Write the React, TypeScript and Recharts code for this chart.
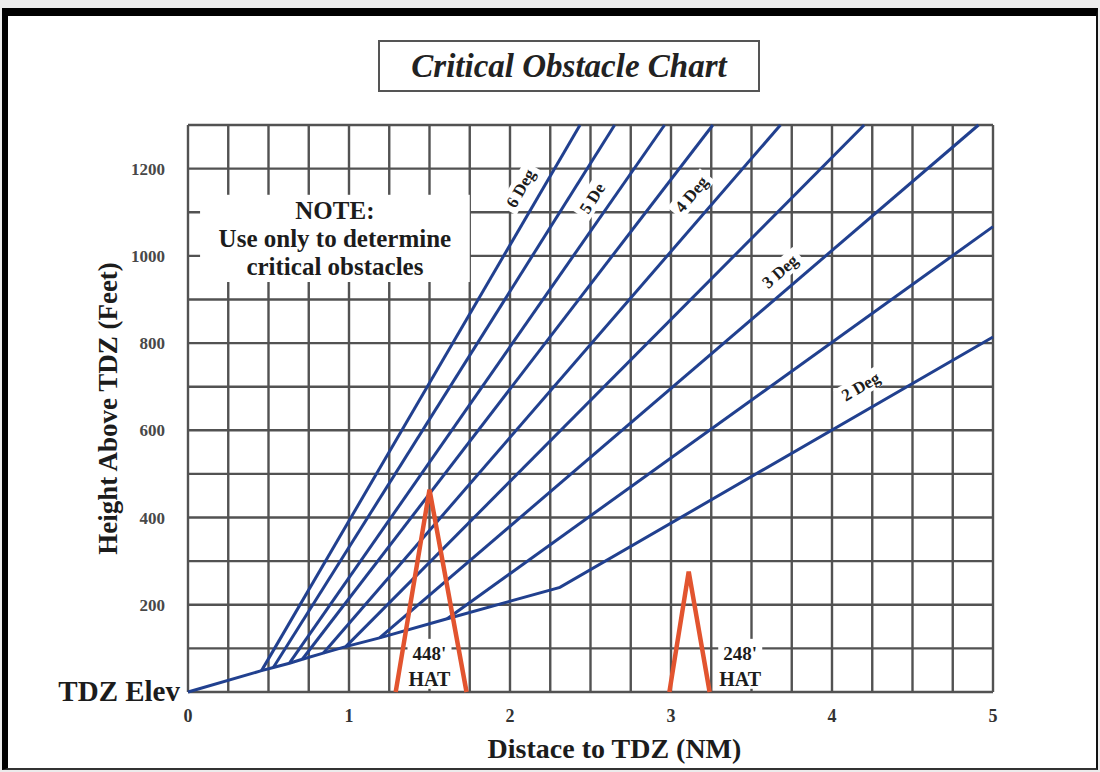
import React from 'react'
import {
  ComposedChart,
  Line,
  XAxis,
  YAxis,
  CartesianGrid,
  ReferenceArea,
  ReferenceDot,
} from 'recharts'

const SERIF = '"Liberation Serif", "Times New Roman", serif'
const INK = '#1c1c1c'
const GRID = '#525252'
const BLUE = '#21408f'
const RED = '#e2542f'

// grid every quarter NM / every 100 ft, labels on whole NM / 200 ft
const distanceTicks = [0, 0.25, 0.5, 0.75, 1, 1.25, 1.5, 1.75, 2, 2.25, 2.5, 2.75, 3, 3.25, 3.5, 3.75, 4, 4.25, 4.5, 4.75, 5]
const heightTicks = [0, 100, 200, 300, 400, 500, 600, 700, 800, 900, 1000, 1100, 1200, 1300]
const distanceLabels = [0, 1, 2, 3, 4, 5]
const heightLabels = [200, 400, 600, 800, 1000, 1200]

// glide paths (deg) leaving the shallow base line
const glideNames = ['6', '5.5', '5', '4.5', '4', '3.5', '3', '2.5']
const glideStartX = [0.457, 0.53, 0.63, 0.71, 0.84, 0.98, 1.19, 1.61]
const glideStartY = [49, 56, 66, 75, 89, 104, 124, 168]
const glideEndX = [2.435, 2.65, 2.96, 3.26, 3.68, 4.2, 4.91, 5]
const glideEndY = [1300, 1300, 1300, 1300, 1300, 1300, 1300, 1067]

// base line from TDZ, turns into the 2 deg line
const baseX = [0, ...glideStartX, 2.31, 5]
const baseY = [0, ...glideStartY, 240, 814]

// obstacles (left foot, top, right foot)
const obstacleNames = ["448'", "248'"]
const obstacleX = [[1.29, 1.5, 1.73], [2.99, 3.11, 3.24]]
const obstacleY = [[0, 464, 0], [0, 276, 0]]
const obstacleLabelX = [1.5, 3.43]
const obstacleLabelY = [60, 60]

// slope labels
const degreeText = ['6 Deg', '5 De', '4 Deg', '3 Deg', '2 Deg']
const degreeX = [2.07, 2.515, 3.13, 3.68, 4.18]
const degreeY = [1154, 1131, 1140, 963, 699]
const degreeAngle = [-60, -57, -50, -41, -30]

// note box corners
const noteX = [0.075, 1.75]
const noteY = [940, 1140]
const noteLines = ['NOTE:', 'Use only to determine', 'critical obstacles']

const toPoints = (xs: number[], ys: number[]) => xs.map((x, i) => ({ x, y: ys[i] }))

function XTick({ x, y, payload }: any) {
  if (!distanceLabels.includes(payload.value)) return <g />
  return (
    <text x={x} y={y + 30} textAnchor="middle" fontFamily={SERIF} fontWeight="bold" fontSize={18} fill="#333">
      {payload.value}
    </text>
  )
}

function YTick({ x, y, payload }: any) {
  if (payload.value === 0) {
    return (
      <text x={x - 8} y={y + 9} textAnchor="end" fontFamily={SERIF} fontWeight="bold" fontSize={29} fill={INK}>
        TDZ Elev
      </text>
    )
  }
  if (!heightLabels.includes(payload.value)) return <g />
  return (
    <text x={x - 23} y={y + 6} textAnchor="end" fontFamily={SERIF} fontWeight="bold" fontSize={17} fill="#484848">
      {payload.value}
    </text>
  )
}

function DegreeTag({ cx, cy, text, angle }: any) {
  const w = text.length * 9 + 6
  return (
    <g transform={`translate(${cx},${cy}) rotate(${angle})`}>
      <rect x={-w / 2} y={-11} width={w} height={20} fill="#fff" />
      <text textAnchor="middle" y={5} fontFamily={SERIF} fontWeight="bold" fontSize={17} fill={INK}>
        {text}
      </text>
    </g>
  )
}

function ObstacleTag({ cx, cy, text }: any) {
  return (
    <g>
      <rect x={cx - 22} y={cy - 27} width={44} height={50} fill="#fff" />
      <text x={cx} y={cy - 6} textAnchor="middle" fontFamily={SERIF} fontWeight="bold" fontSize={19} fill={INK}>
        {text}
      </text>
      <text x={cx} y={cy + 20} textAnchor="middle" fontFamily={SERIF} fontWeight="bold" fontSize={20} fill={INK}>
        HAT
      </text>
    </g>
  )
}

function NoteBox({ x, y, width, height }: any) {
  const mid = x + width / 2
  return (
    <g>
      <rect x={x} y={y} width={width} height={height} fill="#fff" />
      {noteLines.map((line, i) => (
        <text key={line} x={mid} y={y + 24 + i * 28} textAnchor="middle" fontFamily={SERIF} fontWeight="bold" fontSize={25} fill={INK}>
          {line}
        </text>
      ))}
    </g>
  )
}

export default function App() {
  return (
    <div style={{ position: 'absolute', left: 0, top: 0, width: 1100, height: 772, background: '#ececec', fontFamily: SERIF }}>
      <div
        style={{
          position: 'absolute',
          left: 2,
          top: 8,
          width: 1096,
          height: 762,
          boxSizing: 'border-box',
          background: '#fff',
          borderTop: '8px solid #000',
          borderLeft: '6px solid #000',
          borderRight: '2px solid #111',
          borderBottom: '2px solid #333',
        }}
      />
      <div style={{ position: 'absolute', left: 0, top: 0 }}>
        <ComposedChart width={1100} height={772} margin={{ top: 125, right: 107, bottom: 0, left: 0 }}>
          <CartesianGrid stroke={GRID} strokeWidth={2.4} />
          <XAxis
            type="number"
            dataKey="x"
            domain={[0, 5]}
            ticks={distanceTicks}
            interval={0}
            axisLine={false}
            tickLine={false}
            tickSize={0}
            tickMargin={0}
            height={80}
            tick={<XTick />}
            label={{
              content: ({ viewBox }: any) => (
                <text
                  x={viewBox.x + viewBox.width / 2 + 24}
                  y={viewBox.y + 66}
                  textAnchor="middle"
                  fontFamily={SERIF}
                  fontWeight="bold"
                  fontSize={28}
                  fill={INK}
                >
                  Distace to TDZ (NM)
                </text>
              ),
            }}
          />
          <YAxis
            type="number"
            domain={[0, 1300]}
            ticks={heightTicks}
            interval={0}
            axisLine={false}
            tickLine={false}
            tickSize={0}
            tickMargin={0}
            width={188}
            tick={<YTick />}
            label={{
              content: ({ viewBox }: any) => {
                const cx = viewBox.x + 108
                const cy = viewBox.y + viewBox.height / 2
                return (
                  <text
                    x={cx}
                    y={cy}
                    transform={`rotate(-90, ${cx}, ${cy})`}
                    textAnchor="middle"
                    dominantBaseline="central"
                    fontFamily={SERIF}
                    fontWeight="bold"
                    fontSize={27}
                    fill={INK}
                  >
                    Height Above TDZ (Feet)
                  </text>
                )
              },
            }}
          />
          <ReferenceArea x1={noteX[0]} x2={noteX[1]} y1={noteY[0]} y2={noteY[1]} shape={(p: any) => <NoteBox {...p} />} />
          {glideNames.map((name, i) => (
            <Line
              key={name}
              name={name}
              data={toPoints([glideStartX[i], glideEndX[i]], [glideStartY[i], glideEndY[i]])}
              dataKey="y"
              type="linear"
              stroke={BLUE}
              strokeWidth={3}
              dot={false}
              activeDot={false}
              isAnimationActive={false}
            />
          ))}
          <Line
            name="2"
            data={toPoints(baseX, baseY)}
            dataKey="y"
            type="linear"
            stroke={BLUE}
            strokeWidth={3}
            dot={false}
            activeDot={false}
            isAnimationActive={false}
          />
          {obstacleNames.map((name, i) => (
            <Line
              key={name}
              name={name}
              data={toPoints(obstacleX[i], obstacleY[i])}
              dataKey="y"
              type="linear"
              stroke={RED}
              strokeWidth={4.5}
              strokeLinejoin="miter"
              dot={false}
              activeDot={false}
              isAnimationActive={false}
            />
          ))}
          {obstacleNames.map((name, i) => (
            <ReferenceDot
              key={'tag' + name}
              x={obstacleLabelX[i]}
              y={obstacleLabelY[i]}
              r={0}
              shape={(p: any) => <ObstacleTag cx={p.cx} cy={p.cy} text={name} />}
            />
          ))}
          {degreeText.map((t, i) => (
            <ReferenceDot
              key={t}
              x={degreeX[i]}
              y={degreeY[i]}
              r={0}
              shape={(p: any) => <DegreeTag cx={p.cx} cy={p.cy} text={t} angle={degreeAngle[i]} />}
            />
          ))}
        </ComposedChart>
      </div>
      <div
        style={{
          position: 'absolute',
          left: 378,
          top: 40,
          width: 382,
          height: 52,
          boxSizing: 'border-box',
          border: '2px solid #555',
          background: '#fff',
          display: 'flex',
          alignItems: 'center',
          justifyContent: 'center',
          fontFamily: SERIF,
          fontWeight: 'bold',
          fontStyle: 'italic',
          fontSize: 33,
          color: '#222',
        }}
      >
        Critical Obstacle Chart
      </div>
    </div>
  )
}
